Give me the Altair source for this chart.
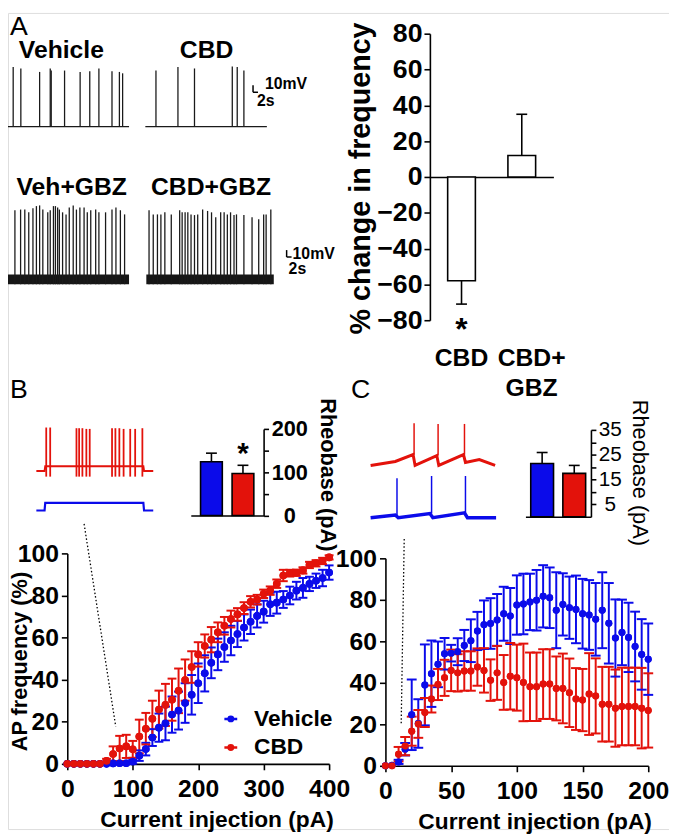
import altair as alt
import pandas as pd

FONT = "Liberation Sans"
W, H = 669, 826
RED = "#e3120b"
BLUE = "#0b0bea"


def P(v):
    return v - 8


# ---------------- Panel A: spontaneous firing traces (t in s, v in mV) ----------------
veh_spk_t = [2.1, 5.2, 12.8, 17.1, 17.5, 22.9, 29.2, 33.1, 36.8, 42.1, 45.1, 46.4]
veh_spk_h = [86, 84, 79, 84, 81, 81, 79, 80, 84, 80, 79, 77]
cbd_spk_t = [59.9, 68.8, 75.5, 90.8, 92.8, 95.5]
cbd_spk_h = [81, 86, 84, 87, 86, 81]
vg_spk_t = [2.8, 5.1, 6.8, 8.4, 10.1, 11.5, 12.8, 14.1, 16.1, 17.1, 18.4, 19.2, 20.1, 20.8, 22.1,
            23.5, 24.8, 26.4, 27.7, 29.1, 30.8, 32.1, 33.5, 35.5, 36.8, 39.5, 42.1, 43.7, 45.5, 47.2]
vg_spk_h = [100, 101, 101, 97, 103, 106, 107, 101, 97, 100, 106, 106, 104, 101, 97,
            94, 104, 107, 101, 104, 104, 97, 100, 101, 97, 97, 101, 104, 100, 94]
cg_spk_t = [57.1, 58.8, 60.5, 61.9, 63.5, 66.1, 69.5, 70.5, 71.7, 72.8, 74.1, 75.5, 76.8, 78.8, 80.8,
            82.4, 84.1, 86.1, 87.5, 88.8, 90.1, 91.5, 92.5, 95.5, 98.8, 101.5, 103.5, 104.5, 106.4]
cg_spk_h = [100, 94, 94, 94, 97, 94, 100, 97, 97, 97, 94, 93, 94, 101, 99,
            97, 90, 97, 97, 94, 97, 93, 94, 93, 90, 87, 94, 94, 101]
trace_names = ["Vehicle", "CBD", "Veh+GBZ", "CBD+GBZ"]
trace_start = [0, 55.6, 0, 56]
trace_end = [49, 104.8, 49, 107.6]
trace_base = [0, 0, -221, -221]
trace_label_t = [21.6, 80.4, 25.8, 82.2]
trace_label_v = [110, 110, -87, -87]
noise_half = [0, 0, 7, 7]
# scale bars (10 mV, 2 s)
sb_t0 = [99.2, 99.2, 112.8, 112.8]
sb_t1 = [99.2, 101.2, 112.8, 114.8]
sb_v0 = [49.6, 49.6, -188.6, -188.6]
sb_v1 = [59.6, 49.6, -178.6, -188.6]
sb_text = ["10mV", "2s", "10mV", "2s"]
sb_text_t = [104, 100.8, 115.2, 113.6]
sb_text_v = [61, 37, -184, -206]

# ---------------- Panel A: % change bar chart ----------------
a_cats = ["CBD", "CBD+GBZ"]
a_vals = [-58, 12]
a_err_end = [-71, 35]
a_labels = ["CBD", "CBD+\nGBZ"]

# ---------------- Panel B insets ----------------
b_red_spk_t = [100, 140, 406, 433, 466, 506, 540, 766, 800, 840, 883, 950, 1000, 1073]
b_red_spk_h = [63, 63, 62, 62, 62, 61, 61, 62, 62, 62, 61, 61, 61, 62]
b_step_t = [0, 83, 90, 1083, 1090, 1183]
b_red_step_v = [0, 0, 7, 7, 0, 0]
b_blue_step_v = [-57, -57, -46, -46, -57, -57]
rheo_cats = ["Vehicle", "CBD"]
rheo_b = [124, 97]
rheo_b_err = [20, 19]
rheo_c = [21.5, 17.5]
rheo_c_err = [4.4, 3.2]

# ---------------- Panel C insets ----------------
c_red_t = [0, 250, 430, 450, 670, 690, 940, 960, 1100, 1260]
c_red_v = [-1.4, 4.3, 14.3, -1.4, 12.9, -1.4, 14.3, 2.9, 7.1, -1.4]
c_red_spk_t = [440, 683, 950]
c_red_spk_v0 = [14, 13, 14]
c_red_spk_v1 = [59.6, 58.6, 58.6]
c_blue_t = [0, 250, 280, 600, 630, 950, 980, 1270]
c_blue_v = [-77, -73, -77, -71, -77, -70, -77, -77]
c_blue_spk_t = [267, 617, 960]
c_blue_spk_v0 = [-73, -71, -70]
c_blue_spk_v1 = [-20, -16.7, -16.7]

# ---------------- Panel B main: AP frequency vs current ----------------
b_x = list(range(0, 401, 10))
b_veh = [0, 0, 0, 0, 0, 0,
         0, 0.2, 0.3, 0.3, 1.1,
         3.9, 7, 12.5, 17.2, 19.2, 23.4, 25.3, 28.9, 32.8, 38.3,
         43, 48, 52, 55.5, 58.6, 61.7, 64.8, 67.5, 70.3, 72.3,
         75.8, 76.6, 78.1, 80, 82.3, 83.6, 85.5, 87, 88.3, 90.9]
b_veh_sem = [0, 0, 0, 0, 0, 0, 0, 0.5, 0.5, 0.5,
             1, 2.5, 3, 4, 6.7, 8, 8.6, 9, 9.4, 9.4, 9.4,
             8.6, 7.3, 7.5, 7, 7, 6.2, 6.2, 5.8, 5.5, 5.2,
             5.5, 5.2, 4, 4.2, 4.2, 4.7, 3.4, 3.4, 3.9, 3.4]
b_cbd = [0, 0, 0, 0, 0, 0,
         1.4, 4.7, 7.3, 8.3, 6.9,
         13, 16.7, 21.4, 25.8, 28, 30.5, 34.7, 39.8, 46, 52,
         56, 59, 62.5, 65.6, 68.8, 71, 74, 77, 78, 80.8,
         82.3, 85.6, 89.5, 90.6, 90.8, 91.9, 94.5, 95.3, 96.4, 98.1]
b_cbd_sem = [0, 0, 0, 0, 0, 0,
             1, 3.6, 6, 5.5, 4,
             8, 7.5, 8.6, 9, 10, 10, 10.6, 9.8, 7.5, 5.8,
             5.5, 6, 4.7, 4.2, 4, 3, 2.8, 2.7, 2.3, 2,
             2, 2, 2.7, 1.6, 1.5, 1.5, 1.5, 1.5, 1.5, 1]
b_dots_x = [25.7, 74]
b_dots_y = [114, 17.8]

# ---------------- Panel C main ----------------
c_x = list(range(0, 201, 5))
c_veh = [0, 0.3, 1.9, 8, 24.6, 20.4, 39, 44.4, 48.9, 54, 54.3,
         55, 58, 60.3, 65, 68, 68.6, 70.3, 73.3, 72.2, 77.5,
         78, 79, 79.8, 81.7, 81, 75, 77.8, 76.2, 75.4, 73.3,
         72.7, 70.6, 75, 68.7, 61.6, 64.3, 61.9, 57.5, 53.7, 51.4]
c_veh_sem = [0, 0.5, 1, 3, 17, 11.7, 19.5, 16, 11, 7.6, 4,
             6.5, 7.5, 10.3, 9.2, 11.7, 12.2, 12.5, 13, 13.5, 14.3,
             14.6, 13.6, 14.6, 15, 14.6, 18.3, 15, 15, 16.3, 16.8,
             16.8, 17.5, 18.3, 19.4, 18.6, 15.8, 16.7, 16.8, 17, 17.2]
c_cbd = [0, 0, 5.6, 9.5, 16.7, 20.2, 25.7, 32.2, 39.2, 42.4, 46,
         44.8, 45.7, 45.7, 47.6, 46, 41.3, 44.8, 40.2, 43.2, 42.5,
         40.2, 38.1, 38.1, 39.4, 39.4, 37.3, 37.3, 35.2, 32.2, 31.7,
         34.6, 33.7, 29.7, 29.7, 27.8, 28.6, 28.6, 28.6, 27.8, 26.7]
c_cbd_sem = [0, 0, 3.5, 4.4, 7, 6.7, 7, 6.5, 7.5, 8.7, 10,
             9, 9.5, 9.5, 9, 10.7, 10, 13, 13.2, 16, 15.9,
             18.7, 16.5, 16.5, 16.8, 16.8, 15.4, 16.8, 16.5, 14.9, 15,
             19.7, 18.1, 18, 18, 18.6, 18.7, 18.7, 18.7, 19.4, 17.9]
c_dots_x = [14.3, 12]
c_dots_y = [109.5, 20.5]


# ---------------- helpers ----------------
def ax(**kw):
    base = dict(grid=False, domainColor="black", tickColor="black", labelColor="black",
                titleColor="black", domainWidth=1.6, tickWidth=1.6, labelFont=FONT,
                titleFont=FONT, labelFontWeight="bold", titleFontWeight="bold")
    base.update(kw)
    return alt.Axis(**base)


def letter(ch, x, y):
    return alt.Chart(pd.DataFrame({"t": [ch]})).mark_text(
        font=FONT, fontSize=27, align="center", baseline="middle", color="black"
    ).encode(text="t:N", x=alt.value(P(x)), y=alt.value(P(y)))


# ---------------- Panel A traces layer ----------------
xAt = alt.Scale(domain=[0, 130], range=[P(8), P(333)], nice=False, zero=False)
yAt = alt.Scale(domain=[-300, 120], range=[P(333), P(39)], nice=False, zero=False)

spk_rows = []
for i, (ts, hs) in enumerate([(veh_spk_t, veh_spk_h), (cbd_spk_t, cbd_spk_h),
                               (vg_spk_t, vg_spk_h), (cg_spk_t, cg_spk_h)]):
    for t, h in zip(ts, hs):
        spk_rows.append({"t": t, "v0": trace_base[i] - noise_half[i], "v1": trace_base[i] + h})
spk_df = pd.DataFrame(spk_rows)
base_df = pd.DataFrame({"t0": trace_start, "t1": trace_end,
                        "v0": [b - n for b, n in zip(trace_base, noise_half)],
                        "v1": [b + n for b, n in zip(trace_base, noise_half)],
                        "v": trace_base})
lab_df = pd.DataFrame({"name": trace_names, "t": trace_label_t, "v": trace_label_v})
sb_df = pd.DataFrame({"t0": sb_t0, "t1": sb_t1, "v0": sb_v0, "v1": sb_v1})
sbt_df = pd.DataFrame({"s": sb_text, "t": sb_text_t, "v": sb_text_v})

XT = alt.X("t0:Q", scale=xAt, axis=None)
tracesA = alt.layer(
    alt.Chart(base_df.iloc[:2]).mark_rule(color="#1a1a1a", strokeWidth=1.3).encode(
        x=XT, x2="t1:Q", y=alt.Y("v:Q", scale=yAt, axis=None)),
    alt.Chart(base_df.iloc[2:]).mark_rect(color="#161616").encode(
        x=XT, x2="t1:Q", y=alt.Y("v0:Q", scale=yAt, axis=None), y2="v1:Q"),
    alt.Chart(spk_df).mark_rule(color="#1a1a1a", strokeWidth=1.3).encode(
        x=alt.X("t:Q", scale=xAt, axis=None), y=alt.Y("v0:Q", scale=yAt, axis=None), y2="v1:Q"),
    alt.Chart(sb_df).mark_rule(color="black", strokeWidth=1.5).encode(
        x=XT, x2="t1:Q", y=alt.Y("v0:Q", scale=yAt, axis=None), y2="v1:Q"),
    alt.Chart(sbt_df).mark_text(font=FONT, fontSize=16, fontWeight="bold", align="left",
                                baseline="middle", color="black").encode(
        x=alt.X("t:Q", scale=xAt, axis=None), y=alt.Y("v:Q", scale=yAt, axis=None), text="s:N"),
    alt.Chart(lab_df).mark_text(font=FONT, fontSize=25, fontWeight="bold", align="center",
                                baseline="middle", color="black").encode(
        x=alt.X("t:Q", scale=xAt, axis=None), y=alt.Y("v:Q", scale=yAt, axis=None), text="name:N"),
)

# ---------------- Panel A bar chart ----------------
dfA = pd.DataFrame({"cond": a_cats, "val": a_vals, "err_end": a_err_end, "lab": a_labels})
xAb = alt.Scale(domain=a_cats, range=[P(435), P(560)], paddingInner=0.54, paddingOuter=0.295)
yAb = alt.Scale(domain=[-80, 80], range=[P(319), P(29)], nice=False, zero=False)
XA = alt.X("cond:N", scale=xAb, sort=None,
           axis=ax(orient="bottom", offset=P(174) - H, labels=False, ticks=False, title=None))
yA_axis = ax(orient="left", offset=-P(435), values=list(range(-80, 81, 20)), tickSize=6,
             labelFontSize=27, labelPadding=2, title="% change in frequency", titleFontSize=29,
             titleX=-70, titleY=P(175), titleAngle=270, titleBaseline="middle", titleAlign="center")
barA = alt.layer(
    alt.Chart(dfA).mark_bar(fill="white", stroke="black", strokeWidth=1.6).encode(
        x=XA, y=alt.Y("val:Q", scale=yAb, axis=yA_axis), y2=alt.datum(0)),
    alt.Chart(dfA).mark_rule(color="black", strokeWidth=1.6).encode(
        x=XA, y=alt.Y("val:Q", scale=yAb, axis=yA_axis), y2="err_end:Q"),
    alt.Chart(dfA).mark_tick(color="black", orient="horizontal", size=11, thickness=1.6, opacity=1).encode(
        x=XA, y=alt.Y("err_end:Q", scale=yAb, axis=yA_axis)),
    alt.Chart(dfA.iloc[:1]).mark_text(font=FONT, fontSize=25, fontWeight="bold", align="center",
                                      baseline="top", dy=26, color="black").encode(
        x=XA, y=alt.Y("datum_y:Q", scale=yAb, axis=yA_axis), text="lab:N"
    ).transform_calculate(datum_y="-80"),
    alt.Chart(dfA.iloc[1:]).mark_text(font=FONT, fontSize=25, fontWeight="bold", align="center",
                                      baseline="top", dy=26, dx=10, lineBreak="\n", lineHeight=31,
                                      color="black").encode(
        x=XA, y=alt.Y("datum_y:Q", scale=yAb, axis=yA_axis), text="lab:N"
    ).transform_calculate(datum_y="-80"),
    alt.Chart(dfA.iloc[:1]).mark_text(font=FONT, fontSize=32, fontWeight="bold", align="center",
                                      baseline="top", dy=-5, color="black").encode(
        x=XA, y=alt.Y("ay:Q", scale=yAb, axis=yA_axis), text=alt.value("*")
    ).transform_calculate(ay="-80"),
)

# ---------------- Panel B inset traces ----------------
xBt = alt.Scale(domain=[0, 1183], range=[P(36.7), P(155)], nice=False, zero=False)
yBt = alt.Scale(domain=[-80, 80], range=[P(527.7), P(415.7)], nice=False, zero=False)
bstep = pd.DataFrame({"t": b_step_t, "red": b_red_step_v, "blue": b_blue_step_v})
bspk = pd.DataFrame({"t": b_red_spk_t, "v0": [-8] * len(b_red_spk_t), "v1": b_red_spk_h})
XBt = alt.X("t:Q", scale=xBt, axis=None)
tracesB = alt.layer(
    alt.Chart(bstep).mark_line(color=RED, strokeWidth=2).encode(
        x=XBt, y=alt.Y("red:Q", scale=yBt, axis=None)),
    alt.Chart(bspk).mark_rule(color=RED, strokeWidth=1.8).encode(
        x=XBt, y=alt.Y("v0:Q", scale=yBt, axis=None), y2="v1:Q"),
    alt.Chart(bstep).mark_line(color=BLUE, strokeWidth=2.2).encode(
        x=XBt, y=alt.Y("blue:Q", scale=yBt, axis=None)),
)


# ---------------- Rheobase bar insets ----------------
def rheo_layer(vals, errs, rng, pin, pout, ydom, yrng, yaxis, base_y, star=None):
    df = pd.DataFrame({"cond": rheo_cats, "val": vals,
                       "top": [v + e for v, e in zip(vals, errs)]})
    xs = alt.Scale(domain=rheo_cats, range=rng, paddingInner=pin, paddingOuter=pout)
    ys = alt.Scale(domain=ydom, range=yrng, nice=False, zero=False)
    X = alt.X("cond:N", scale=xs, sort=None,
              axis=ax(orient="bottom", offset=P(base_y) - H, labels=False, ticks=False, title=None))
    col = alt.Color("cond:N", scale=alt.Scale(domain=rheo_cats, range=[BLUE, RED]), legend=None)
    layers = [
        alt.Chart(df).mark_rule(color="black", strokeWidth=1.6).encode(
            x=X, y=alt.Y("val:Q", scale=ys, axis=yaxis), y2="top:Q"),
        alt.Chart(df).mark_tick(color="black", orient="horizontal", size=11, thickness=1.6,
                                opacity=1).encode(x=X, y=alt.Y("top:Q", scale=ys, axis=yaxis)),
        alt.Chart(df).mark_bar(stroke="black", strokeWidth=1.6, opacity=1).encode(
            x=X, y=alt.Y("val:Q", scale=ys, axis=yaxis), y2=alt.datum(0), color=col),
    ]
    if star is not None:
        layers.append(
            alt.Chart(df.iloc[1:]).mark_text(font=FONT, fontSize=30, fontWeight="bold",
                                             baseline="middle", dy=8, color="black").encode(
                x=X, y=alt.Y("sy:Q", scale=ys, axis=yaxis), text=alt.value("*")
            ).transform_calculate(sy=str(star)))
    return alt.layer(*layers)


rb_axis = ax(orient="right", offset=P(266.7) - W, values=[0, 50, 100, 150, 200], tickSize=5,
             labelFontSize=22, labelAlign="center", labelPadding=21, title="Rheobase (pA)",
             titleFontSize=22, titleAngle=90, titleX=331 - 266.7, titleY=P(475),
             titleBaseline="middle", titleAlign="center")
rheoB = rheo_layer(rheo_b, rheo_b_err, [P(193), P(266.7)], 0.31, 0.31, [0, 200],
                   [P(516.7), P(429)], rb_axis, 516.7, star=159)
rc_axis = ax(orient="right", offset=P(598) - W, values=[5, 10, 15, 20, 25, 30, 35], tickSize=5,
             labelFontSize=21, labelFontWeight="normal", labelAlign="center", labelPadding=14,
             labelExpr="datum.value % 10 == 5 ? datum.label : ''",
             title="Rheobase (pA)", titleFontWeight="normal", titleFontSize=22, titleAngle=90,
             titleX=49, titleY=P(473), titleBaseline="middle", titleAlign="center")
rheoC = rheo_layer(rheo_c, rheo_c_err, [P(531.7), P(598)], 0.29, 0.165, [0, 35],
                   [P(518), P(430)], rc_axis, 518)

# ---------------- Panel C inset traces ----------------
xCt = alt.Scale(domain=[0, 1270], range=[P(375), P(502)], nice=False, zero=False)
yCt = alt.Scale(domain=[-100, 80], range=[P(535), P(409)], nice=False, zero=False)
XCt = alt.X("t:Q", scale=xCt, axis=None)
tracesC = alt.layer(
    alt.Chart(pd.DataFrame({"t": c_red_t, "v": c_red_v})).mark_line(color=RED, strokeWidth=3).encode(
        x=XCt, y=alt.Y("v:Q", scale=yCt, axis=None)),
    alt.Chart(pd.DataFrame({"t": c_red_spk_t, "v0": c_red_spk_v0, "v1": c_red_spk_v1})).mark_rule(
        color=RED, strokeWidth=1.5).encode(x=XCt, y=alt.Y("v0:Q", scale=yCt, axis=None), y2="v1:Q"),
    alt.Chart(pd.DataFrame({"t": c_blue_t, "v": c_blue_v})).mark_line(color=BLUE, strokeWidth=3.5).encode(
        x=XCt, y=alt.Y("v:Q", scale=yCt, axis=None)),
    alt.Chart(pd.DataFrame({"t": c_blue_spk_t, "v0": c_blue_spk_v0, "v1": c_blue_spk_v1})).mark_rule(
        color=BLUE, strokeWidth=1.5).encode(x=XCt, y=alt.Y("v0:Q", scale=yCt, axis=None), y2="v1:Q"),
)

# ---------------- Main line/errorbar charts ----------------
SYM = "M-1.3,0H1.3M0.45,0A0.45,0.45,0,1,1,-0.45,0A0.45,0.45,0,1,1,0.45,0Z"


def main_layer(xv, veh, veh_sem, cbd, cbd_sem, dx, dy, xs, ys, xaxis, yaxis, legend, size, cap):
    rows, caps = [], []
    for name, ys_, es_ in (("Vehicle", veh, veh_sem), ("CBD", cbd, cbd_sem)):
        for xi, yi, ei in zip(xv, ys_, es_):
            rows.append({"series": name, "x": xi, "y": yi, "lo": yi - ei, "hi": yi + ei})
            if ei > 0.6:
                caps.append({"series": name, "x": xi, "cap": yi - ei})
                caps.append({"series": name, "x": xi, "cap": yi + ei})
    df = pd.DataFrame(rows)
    cdf = pd.DataFrame(caps)
    dots = pd.DataFrame({"x": dx, "y": dy})
    cs = alt.Scale(domain=["Vehicle", "CBD"], range=[BLUE, RED])
    X = alt.X("x:Q", scale=xs, axis=xaxis)
    col_nl = alt.Color("series:N", scale=cs, legend=None, sort=None)
    col_pt = alt.Color("series:N", scale=cs, legend=legend, sort=None)
    return alt.layer(
        alt.Chart(dots).mark_line(color="black", strokeDash=[1.5, 2.2], strokeWidth=1.3).encode(
            x=X, y=alt.Y("y:Q", scale=ys, axis=yaxis)),
        alt.Chart(df).mark_point(filled=True, size=size, opacity=1).encode(
            x=X, y=alt.Y("y:Q", scale=ys, axis=yaxis), color=col_pt),
        alt.Chart(df).mark_rule(strokeWidth=2).encode(
            x=X, y=alt.Y("lo:Q", scale=ys, axis=yaxis), y2="hi:Q", color=col_nl),
        alt.Chart(cdf).mark_tick(orient="horizontal", size=cap, thickness=2, opacity=1).encode(
            x=X, y=alt.Y("cap:Q", scale=ys, axis=yaxis), color=col_nl),
        alt.Chart(df).mark_point(filled=True, size=size, opacity=1).encode(
            x=X, y=alt.Y("y:Q", scale=ys, axis=yaxis), color=col_nl),
    )


LEG = alt.Legend(orient="none", legendX=P(222), legendY=P(711), title=None, labelFont=FONT,
                 labelFontSize=23, labelFontWeight="bold", labelColor="black", symbolType=SYM,
                 symbolSize=100, symbolStrokeWidth=2.5, labelOffset=12, rowPadding=5,
                 padding=0, direction="vertical")

xB = alt.Scale(domain=[0, 400], range=[P(68), P(333)], nice=False, zero=False)
yB = alt.Scale(domain=[0, 100], range=[P(768), P(555)], nice=False, zero=False)
xB_axis = ax(orient="bottom", offset=P(768) - H, values=[0, 100, 200, 300, 400], tickSize=6,
             labelFontSize=25, labelPadding=7, labelFlush=False, labelOverlap=False,
             title="Current injection (pA)", titleFontSize=23, titleX=P(219), titleY=56,
             titleBaseline="middle", titleAlign="center")
yB_axis = ax(orient="left", offset=-P(68), values=[0, 20, 40, 60, 80, 100], tickSize=6,
             labelFontSize=25, labelPadding=3, title="AP frequency (%)", titleFontSize=22,
             titleX=P(20) - P(68), titleY=P(664), titleAngle=270, titleBaseline="middle",
             titleAlign="center")
mainB = main_layer(b_x, b_veh, b_veh_sem, b_cbd, b_cbd_sem, b_dots_x, b_dots_y, xB, yB,
                   xB_axis, yB_axis, LEG, 60, 9)

xC = alt.Scale(domain=[0, 200], range=[P(390), P(656)], nice=False, zero=False)
yC = alt.Scale(domain=[0, 100], range=[P(770), P(560)], nice=False, zero=False)
xC_axis = ax(orient="bottom", offset=P(770) - H, values=[0, 50, 100, 150, 200], tickSize=6,
             labelFontSize=25, labelPadding=7, labelFlush=False, labelOverlap=False,
             title="Current injection (pA)", titleFontSize=23, titleX=P(541), titleY=56,
             titleBaseline="middle", titleAlign="center")
yC_axis = ax(orient="left", offset=-P(390), values=[0, 20, 40, 60, 80, 100], tickSize=6,
             labelFontSize=25, labelPadding=3, title=None)
mainC = main_layer(c_x, c_veh, c_veh_sem, c_cbd, c_cbd_sem, c_dots_x, c_dots_y, xC, yC,
                   xC_axis, yC_axis, None, 50, 10)

chart = alt.layer(
    letter("A", 19, 22), letter("B", 19, 390), letter("C", 365, 390),
    tracesA, barA, tracesB, rheoB, tracesC, rheoC, mainB, mainC,
).resolve_scale(
    x="independent", y="independent", color="independent"
).resolve_axis(
    x="independent", y="independent"
).resolve_legend(
    color="independent"
).properties(
    width=W, height=H, padding=0, autosize=alt.AutoSizeParams(type="none")
).configure_view(stroke=None).configure(font=FONT)

chart.save("out.html", embed_options={"renderer": "svg", "actions": False})
